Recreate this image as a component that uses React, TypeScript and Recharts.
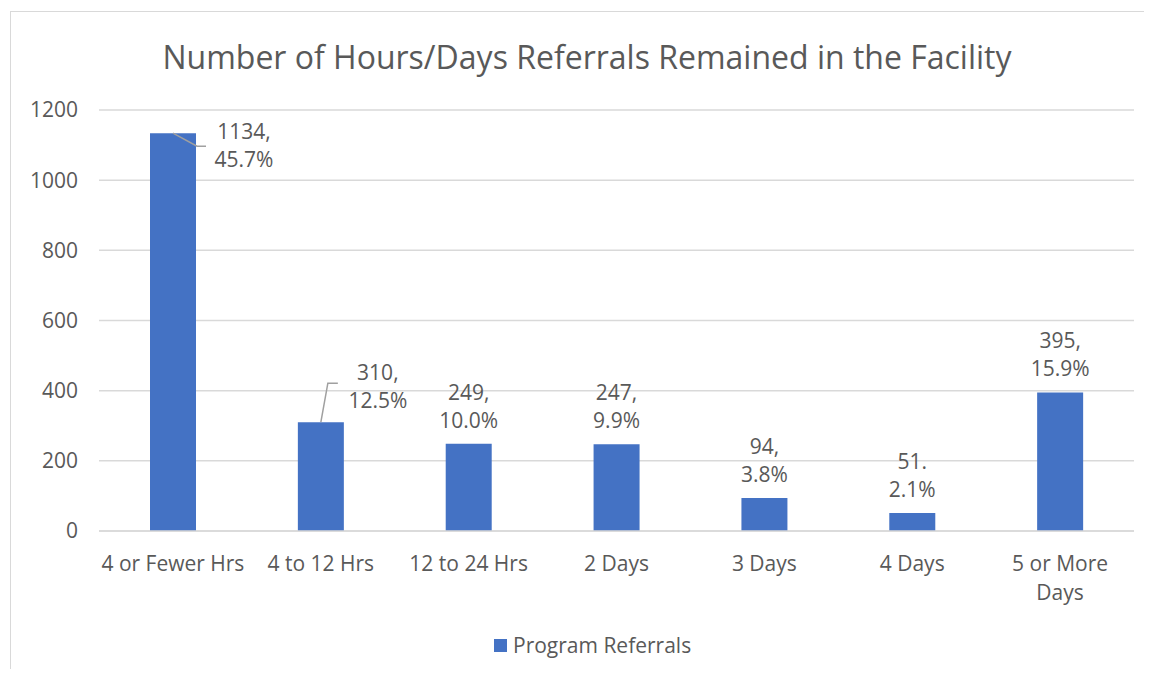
import React from "react";
import { Bar, BarChart, CartesianGrid, LabelList, Legend, XAxis, YAxis } from "recharts";

const categories = ["4 or Fewer Hrs", "4 to 12 Hrs", "12 to 24 Hrs", "2 Days", "3 Days", "4 Days", "5 or More Days"];
const tickLabels = [["4 or Fewer Hrs"], ["4 to 12 Hrs"], ["12 to 24 Hrs"], ["2 Days"], ["3 Days"], ["4 Days"], ["5 or More", "Days"]];
const referrals = [1134, 310, 249, 247, 94, 51, 395];
const percents = ["45.7%", "12.5%", "10.0%", "9.9%", "3.8%", "2.1%", "15.9%"];
const separators = [",", ",", ",", ",", ",", ".", ","];
const yTicks = [0, 200, 400, 600, 800, 1000, 1200];

const TEXT = "#595959";
const GRID = "#d9d9d9";
const BAR = "#4472C4";
const FONT = "'Open Sans', sans-serif";

const chartData = categories.map((name, i) => ({
    name,
    value: referrals[i],
    pct: percents[i],
    sep: separators[i],
    lines: tickLabels[i],
}));

// labels that Excel pushed off to the side, with a leader line back to the bar
const calloutOffsets: Record<number, { dx: number; dy: number; line: number[][] }> = {
    0: { dx: 71, dy: -2, line: [[0, 0], [24, 13], [33, 13]] },
    1: { dx: 57, dy: -50, line: [[0, 0], [7, -39], [17, -39]] },
};

function BarLabel(props: any) {
    const { x, y, width, index } = props;
    const d = chartData[index];
    if (!d) return null;
    const cx = x + width / 2;
    const callout = calloutOffsets[index];
    const tx = callout ? cx + callout.dx : cx;
    const ty = callout ? y + callout.dy : y - 52;
    return (
        <g>
            {callout && (
                <polyline
                    points={callout.line.map(p => `${cx + p[0]},${y + p[1]}`).join(" ")}
                    fill="none"
                    stroke="#a0a0a0"
                    strokeWidth={1.5}
                />
            )}
            <text x={tx} y={ty} textAnchor="middle" dominantBaseline="central" fill={TEXT} fontSize={21} fontFamily={FONT}>
                <tspan x={tx}>{`${d.value}${d.sep}`}</tspan>
                <tspan x={tx} dy={28}>{d.pct}</tspan>
            </text>
        </g>
    );
}

function CategoryTick(props: any) {
    const { x, y, index } = props;
    const lines = chartData[index]?.lines || [];
    return (
        <text x={x} y={y + 24} textAnchor="middle" dominantBaseline="central" fill={TEXT} fontSize={21} fontFamily={FONT}>
            {lines.map((l: string, i: number) => (
                <tspan key={i} x={x} dy={i === 0 ? 0 : 29}>{l}</tspan>
            ))}
        </text>
    );
}

function LegendBox() {
    return (
        <div style={{ display: "flex", alignItems: "center", fontFamily: FONT, fontSize: 21, color: TEXT }}>
            <span style={{ display: "inline-block", width: 13, height: 13, background: BAR, marginRight: 6 }} />
            <span>Program Referrals</span>
        </div>
    );
}

export default function App() {
    return (
        <div style={{ position: "relative", width: 1152, height: 677, margin: -8, overflow: "hidden", background: "#fff" }}>
            <div style={{ position: "absolute", left: 10, top: 11, width: 1200, height: 700, border: `1.5px solid ${GRID}` }} />
            <div
                style={{
                    position: "absolute",
                    top: 35,
                    left: 0,
                    width: 1174,
                    textAlign: "center",
                    fontFamily: FONT,
                    fontSize: 32,
                    lineHeight: "44px",
                    color: TEXT,
                }}
            >
                Number of Hours/Days Referrals Remained in the Facility
            </div>
            <BarChart
                width={1152}
                height={677}
                data={chartData}
                margin={{ top: 110, right: 18, left: 0, bottom: 86 }}
                style={{ position: "absolute", left: 0, top: 0 }}
            >
                <CartesianGrid vertical={false} stroke={GRID} strokeWidth={1.5} />
                <XAxis
                    dataKey="name"
                    height={60}
                    axisLine={{ stroke: GRID, strokeWidth: 1.5 }}
                    tickLine={false}
                    interval={0}
                    tick={<CategoryTick />}
                />
                <YAxis
                    width={99}
                    domain={[0, 1200]}
                    ticks={yTicks}
                    axisLine={false}
                    tickLine={false}
                    tickSize={6}
                    tickMargin={15}
                    tick={{ fill: TEXT, fontSize: 21, fontFamily: FONT }}
                />
                <Legend
                    verticalAlign="middle"
                    align="center"
                    content={<LegendBox />}
                    wrapperStyle={{ top: 631, left: 494, width: "auto" }}
                />
                <Bar dataKey="value" name="Program Referrals" fill={BAR} barSize={46} isAnimationActive={false}>
                    <LabelList dataKey="value" content={<BarLabel />} />
                </Bar>
            </BarChart>
        </div>
    );
}
